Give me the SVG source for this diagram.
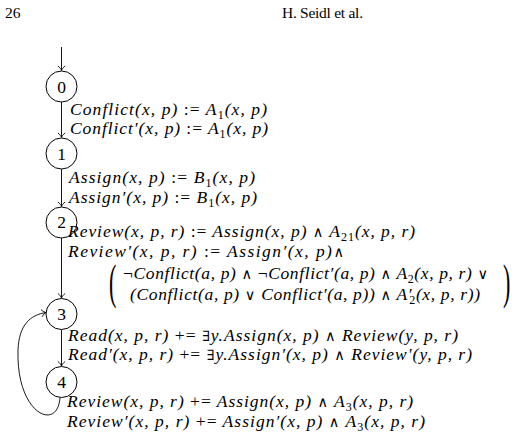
<svg xmlns="http://www.w3.org/2000/svg" width="523" height="441" viewBox="0 0 523 441">
<style>
.hd{font-family:"Liberation Serif","DejaVu Serif",serif;font-size:15.5px;fill:#000}
.m{font-family:"Liberation Serif","DejaVu Serif",serif;font-size:17.5px;font-style:italic;fill:#000}
.u{font-style:normal}
.o{font-style:normal;font-size:14.5px}
.s{font-size:12px;font-style:normal}
.n{font-family:"Liberation Serif","DejaVu Serif",serif;font-size:17.5px;fill:#000;text-anchor:middle}
.c{fill:#fff;stroke:#000;stroke-width:1}
.e{fill:none;stroke:#000;stroke-width:0.9}
.bp{font-family:"Liberation Serif","DejaVu Serif",serif;font-size:22px;fill:#000}
</style>
<defs>
<marker id="arr" viewBox="-6 -5 7 10" refX="0" refY="0" markerWidth="7" markerHeight="10" markerUnits="userSpaceOnUse" orient="auto">
<path d="M -4.5 -3.6 C -3 -1.6 -1.2 -0.4 0 0 C -1.2 0.4 -3 1.6 -4.5 3.6" fill="none" stroke="#000" stroke-width="0.9"/>
</marker>
</defs>
<rect width="523" height="441" fill="#fff"/>
<g id="header">
<text class="hd" x="5" y="18">26</text>
<text class="hd" x="282" y="18" textLength="81">H. Seidl et al.</text>
</g>
<g id="connectors">
<line class="e" x1="61.5" y1="47" x2="61.5" y2="70.5" marker-end="url(#arr)"/>
<line class="e" x1="61.5" y1="102" x2="61.5" y2="137.5" marker-end="url(#arr)"/>
<line class="e" x1="61.5" y1="169" x2="61.5" y2="206.5" marker-end="url(#arr)"/>
<line class="e" x1="61.5" y1="238" x2="61.5" y2="298" marker-end="url(#arr)"/>
<line class="e" x1="61.5" y1="329.5" x2="61.5" y2="366" marker-end="url(#arr)"/>
<path class="e" d="M 60 397.5 C 58 432 16 415 18 350 C 19 325 30 315 46 312.5" marker-end="url(#arr)"/>
</g>
<g id="node0"><circle class="c" cx="61.5" cy="86.5" r="15.5"/><text class="n" x="61.5" y="92.5">0</text></g>
<g id="node1"><circle class="c" cx="61.5" cy="153.5" r="15.5"/><text class="n" x="61.5" y="159.5">1</text></g>
<g id="node2"><circle class="c" cx="61.5" cy="222.5" r="15.5"/><text class="n" x="61.5" y="228">2</text></g>
<g id="node3"><circle class="c" cx="61.5" cy="314" r="15.5"/><text class="n" x="61.5" y="320">3</text></g>
<g id="node4"><circle class="c" cx="61.5" cy="382" r="15.5"/><text class="n" x="61.5" y="388">4</text></g>
<g id="edge-labels">
<text class="m" x="70" y="115" textLength="197">Conflict(x, p) <tspan class="u">:=</tspan> A<tspan class="s" dy="3.5">1</tspan><tspan dy="-3.5">(x, p)</tspan></text>
<text class="m" x="70" y="134" textLength="198">Conflict′(x, p) <tspan class="u">:=</tspan> A<tspan class="s" dy="3.5">1</tspan><tspan dy="-3.5">(x, p)</tspan></text>
<text class="m" x="69" y="183" textLength="186">Assign(x, p) <tspan class="u">:=</tspan> B<tspan class="s" dy="3.5">1</tspan><tspan dy="-3.5">(x, p)</tspan></text>
<text class="m" x="69" y="203" textLength="188">Assign′(x, p) <tspan class="u">:=</tspan> B<tspan class="s" dy="3.5">1</tspan><tspan dy="-3.5">(x, p)</tspan></text>
<text class="m" x="68" y="237" textLength="347">Review(x, p, r) <tspan class="u">:=</tspan> Assign(x, p) <tspan class="o">∧</tspan> A<tspan class="s" dy="3.5">21</tspan><tspan dy="-3.5">(x, p, r)</tspan></text>
<text class="m" x="68" y="257" textLength="276">Review′(x, p, r) <tspan class="u">:=</tspan> Assign′(x, p)<tspan class="o">∧</tspan></text>
<text class="bp" transform="translate(109 298) scale(1 2.25)" x="0" y="0">(</text>
<text class="m" x="123" y="279" textLength="365"><tspan class="u">¬</tspan>Conflict(a, p) <tspan class="o">∧</tspan> <tspan class="u">¬</tspan>Conflict′(a, p) <tspan class="o">∧</tspan> A<tspan class="s" dy="3.5">2</tspan><tspan dy="-3.5">(x, p, r) </tspan><tspan class="o">∨</tspan></text>
<text class="m" x="130" y="300" textLength="350">(Conflict(a, p) <tspan class="o">∨</tspan> Conflict′(a, p)) <tspan class="o">∧</tspan> A′<tspan class="s" dx="-3" dy="4">2</tspan><tspan dy="-4">(x, p, r))</tspan></text>
<text class="bp" transform="translate(503 298) scale(1 2.25)" x="0" y="0">)</text>
<text class="m" x="68" y="341" textLength="390">Read(x, p, r) <tspan class="u">+=</tspan> <tspan class="o">∃</tspan>y.Assign(x, p) <tspan class="o">∧</tspan> Review(y, p, r)</text>
<text class="m" x="68" y="360" textLength="404">Read′(x, p, r) <tspan class="u">+=</tspan> <tspan class="o">∃</tspan>y.Assign′(x, p) <tspan class="o">∧</tspan> Review′(y, p, r)</text>
<text class="m" x="67" y="407" textLength="346">Review(x, p, r) <tspan class="u">+=</tspan> Assign(x, p) <tspan class="o">∧</tspan> A<tspan class="s" dy="3.5">3</tspan><tspan dy="-3.5">(x, p, r)</tspan></text>
<text class="m" x="67" y="427" textLength="358">Review′(x, p, r) <tspan class="u">+=</tspan> Assign′(x, p) <tspan class="o">∧</tspan> A<tspan class="s" dy="3.5">3</tspan><tspan dy="-3.5">(x, p, r)</tspan></text>
</g>
</svg>
